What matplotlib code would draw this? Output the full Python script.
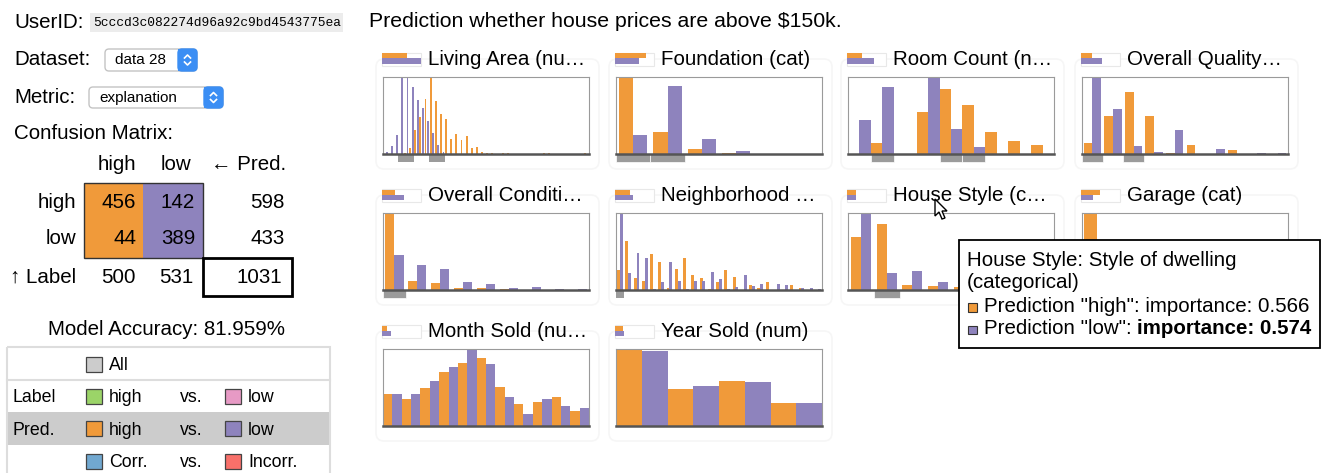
# explanation dashboard: confusion matrix + per-feature histograms of the predicted classes
import numpy as np
import matplotlib.pyplot as plt
from matplotlib.patches import Rectangle, FancyBboxPatch, Polygon

plt.rcParams['font.family'] = ['Liberation Sans', 'DejaVu Sans']

W, H = 1322, 473
ORANGE = '#f09a3a'
PURPLE = '#8e83bd'
FS = 14.8

#--------------
title = 'Prediction whether house prices are above $150k.'
user_id = '5cccd3c082274d96a92c9bd4543775ea'
dataset = 'data 28'
metric = 'explanation'
classes = ['high', 'low']
cm = np.array([[456, 142], [44, 389]])  # rows: label, cols: prediction
#--------------

features = ['Living Area (nu\u2026', 'Foundation (cat)', 'Room Count (n\u2026', 'Overall Quality\u2026',
            'Overall Conditi\u2026', 'Neighborhood \u2026', 'House Style (c\u2026', 'Garage (cat)',
            'Month Sold (nu\u2026', 'Year Sold (num)']
imp_high = [0.65, 0.80, 0.39, 0.29, 0.33, 0.38, 0.22, 0.48, 0.12, 0.20]  # importance icon
imp_low = [1.0, 0.62, 0.70, 0.55, 0.56, 0.46, 0.22, 0.30, 0.24, 0.24]

living_high = [0, 0, 0, 0, 0.01, 0.08, 0.31, 0.48, 0.71, 1.0, 0.69, 0.52, 0.46, 0.20, 0.26, 0.18, 0.24, 0.08, 0.09, 0.02,
               0.01, 0.01, 0, 0.01, 0.01, 0, 0, 0, 0, 0, 0, 0.01, 0.01, 0, 0, 0, 0, 0, 0, 0.01]
living_low = [0.02, 0.11, 0.25, 1.0, 1.0, 0.87, 0.70, 0.60, 0.43, 0.27, 0.12, 0.02, 0, 0, 0, 0, 0, 0, 0, 0,
              0, 0, 0, 0, 0, 0, 0, 0, 0, 0, 0, 0, 0, 0, 0, 0, 0, 0, 0, 0]
foundation_high = [1.0, 0.29, 0.065, 0.01, 0.005, 0.005]
foundation_low = [0.245, 0.88, 0.20, 0.04, 0.005, 0.005]
room_high = [0, 0.14, 0, 0.55, 0.85, 0.64, 0.28, 0.17, 0.12]
room_low = [0.44, 0.87, 0, 1.0, 0.33, 0.09, 0, 0, 0]
quality_high = [0.14, 0.49, 0.81, 0.49, 0.01, 0.12, 0, 0.05, 0, 0]
quality_low = [1.0, 0.58, 0.11, 0.03, 0.31, 0, 0.07, 0, 0.01, 0.01]
condition_high = [1.0, 0.12, 0.09, 0.03, 0.02, 0.01, 0.005, 0, 0]
condition_low = [0.45, 0.32, 0.27, 0.10, 0.08, 0.03, 0.04, 0.01, 0.01]
neighborhood_high = [0.26, 0.63, 0.16, 0.12, 0.47, 0.36, 0.03, 0.27, 0.41, 0.20, 0.16, 0.01, 0.10,
                     0.26, 0.17, 0, 0.07, 0.03, 0.11, 0, 0, 0.07, 0.02, 0, 0]
neighborhood_low = [1.0, 0.22, 0.48, 0.42, 0.01, 0.10, 0.36, 0.12, 0.01, 0.12, 0.12, 0.23, 0.14,
                    0.01, 0.04, 0.19, 0.05, 0.08, 0, 0.08, 0.07, 0, 0.03, 0.03, 0.01]
style_high = [0.69, 0.86, 0.065, 0.05, 0.04, 0.02, 0.01, 0.01]
style_low = [1.0, 0.22, 0.25, 0.11, 0.06, 0.03, 0.02, 0.01]
garage_high = [1.0, 0.12, 0.30, 0.02, 0.01, 0.01, 0.0]
garage_low = [0.48, 0.55, 0.05, 0.08, 0.02, 0.01, 0.01]
month_high = [0.42, 0.35, 0.49, 0.70, 0.82, 0.88, 0.51, 0.29, 0.31, 0.38, 0.19]
month_low = [0.41, 0.42, 0.58, 0.76, 1.0, 0.80, 0.38, 0.15, 0.35, 0.26, 0.23]
year_high = [1.0, 0.48, 0.58, 0.30]
year_low = [0.97, 0.52, 0.57, 0.30]

hist_high = [living_high, foundation_high, room_high, quality_high, condition_high,
             neighborhood_high, style_high, garage_high, month_high, year_high]
hist_low = [living_low, foundation_low, room_low, quality_low, condition_low,
            neighborhood_low, style_low, garage_low, month_low, year_low]
highlight = [[3, 4, 5, 9, 10, 11], [0, 1], [1, 4, 5], [0, 2], [0], [0], [1], [], [], []]  # gray bins
bar_width = [0.36, 0.41, 0.5, 0.42, 0.4, 0.36, 0.39, 0.42, 0.5, 0.5]
bar_offset = [0.26, 0.205, 0.25, 0.21, 0.2, 0.17, 0.195, 0.21, 0.25, 0.25]

legend_rows = ['', 'Label', 'Pred.', '']
legend_left = ['All', 'high', 'high', 'Corr.']
legend_right = ['', 'low', 'low', 'Incorr.']
legend_left_col = ['#cccccc', '#9bd468', ORANGE, '#71a8d0']
legend_right_col = ['', '#e79ac5', PURPLE, '#f8706a']


def px_box(left, top, right, bottom):
    # pixel box (origin top-left) -> figure fraction
    return [left/W, 1-bottom/H, (right-left)/W, (bottom-top)/H]


def draw_hist(rect, high, low, width, offset, marked):
    ax = plt.axes(rect)
    x = np.arange(len(high))
    plt.bar(x-offset, high, width=width, color=ORANGE, linewidth=0)
    plt.bar(x+offset, low, width=width, color=PURPLE, linewidth=0)
    if len(marked) > 0:
        sep = 0.5 if len(high) < 20 else 0  # fine bins: one solid block
        plt.bar(marked, -0.11, width=1, bottom=0, color='#9b9b9b', edgecolor='white', linewidth=sep, clip_on=False)
    plt.xlim(-0.5, len(high)-0.5)
    plt.ylim(0, 1)
    plt.xticks([])
    plt.yticks([])
    for side in ['top', 'left', 'right']:
        ax.spines[side].set_color('#9a9a9a')
    ax.spines['bottom'].set_color('#555555')
    ax.spines['bottom'].set_linewidth(1.8)
    return ax


def select_box(left, top, right, bottom, label):
    ax = plt.gca()
    ax.add_patch(FancyBboxPatch((left, top), right-left, bottom-top, boxstyle='round,pad=0,rounding_size=4',
                                facecolor='white', edgecolor='#c4c4c4', linewidth=1))
    ax.add_patch(FancyBboxPatch((right-19, top), 19, bottom-top, boxstyle='round,pad=0,rounding_size=4',
                                facecolor='#3b8ef4', edgecolor='#3b8ef4', linewidth=1))
    ax.add_patch(Rectangle((right-19, top), 6, bottom-top, facecolor='#3b8ef4', edgecolor='none'))
    cx, cy = right-9.5, (top+bottom)/2
    plt.plot([cx-3, cx, cx+3], [cy-2, cy-5, cy-2], color='white', linewidth=1.2)
    plt.plot([cx-3, cx, cx+3], [cy+2, cy+5, cy+2], color='white', linewidth=1.2)
    plt.text(left+10, (top+bottom)/2+4.5, label, fontsize=11, va='baseline')


fig = plt.figure(figsize=(W/100, H/100), dpi=100)

# background layer in pixel coordinates
bg = plt.axes([0, 0, 1, 1])
plt.xlim(0, W)
plt.ylim(H, 0)
plt.axis('off')

plt.text(14, 28, 'UserID:', fontsize=FS, va='baseline')
bg.add_patch(Rectangle((90, 13), 253, 19, facecolor='#ececec', edgecolor='none'))
plt.text(93, 26, user_id, fontsize=9.3, family='Liberation Mono', va='baseline')
plt.text(14, 65, 'Dataset:', fontsize=FS, va='baseline')
select_box(105, 49, 197, 71, dataset)
plt.text(14, 103, 'Metric:', fontsize=FS, va='baseline')
select_box(89, 87, 223, 108, metric)
plt.text(14, 139, 'Confusion Matrix:', fontsize=FS, va='baseline')

# confusion matrix
col_x = [84, 143]
for j in range(2):
    bg.add_patch(Rectangle((col_x[j], 183), 59.5, 75, facecolor=[ORANGE, PURPLE][j], edgecolor='none'))
    plt.text(col_x[j]+33, 170, classes[j], fontsize=FS, ha='center', va='baseline')
bg.add_patch(Rectangle((84, 183), 119, 75, facecolor='none', edgecolor='#333333', linewidth=1))
plt.text(211, 170, '\u2190 Pred.', fontsize=FS, va='baseline')
for i in range(2):
    base = [208, 244][i]
    plt.text(76, base, classes[i], fontsize=FS, ha='right', va='baseline')
    for j in range(2):
        plt.text([136, 195][j], base, '%d' % cm[i, j], fontsize=FS, ha='right', va='baseline')
    plt.text(285, base, '%d' % cm[i].sum(), fontsize=FS, ha='right', va='baseline')
plt.text(76, 283, '\u2191 Label', fontsize=FS, ha='right', va='baseline')
for j in range(2):
    plt.text([136, 193][j], 283, '%d' % cm[:, j].sum(), fontsize=FS, ha='right', va='baseline')
bg.add_patch(Rectangle((203, 258), 89, 38, facecolor='none', edgecolor='black', linewidth=2))
plt.text(282, 283, '%d' % cm.sum(), fontsize=FS, ha='right', va='baseline')

acc = 100.0*np.trace(cm)/cm.sum()
plt.text(167, 335, 'Model Accuracy: %.3f%%' % acc, fontsize=FS, ha='center', va='baseline')

# color legend table
bg.add_patch(Rectangle((8, 412), 321, 33, facecolor='#cccccc', edgecolor='none'))
bg.add_patch(Rectangle((7, 347), 323, 140, facecolor='none', edgecolor='#dddddd', linewidth=1.5))
plt.plot([7, 330], [380, 380], color='#dddddd', linewidth=1.5)
for k in range(4):
    yc = 364+32.4*k
    plt.text(13, yc+6, legend_rows[k], fontsize=12.8, va='baseline')
    bg.add_patch(Rectangle((86, yc-7.5), 16, 15, facecolor=legend_left_col[k], edgecolor='#444444', linewidth=0.9))
    plt.text(109, yc+6, legend_left[k], fontsize=12.8, va='baseline')
    if legend_right[k]:
        plt.text(180, yc+6, 'vs.', fontsize=12.8, va='baseline')
        bg.add_patch(Rectangle((225, yc-7.5), 16, 15, facecolor=legend_right_col[k], edgecolor='#444444', linewidth=0.9))
        plt.text(248, yc+6, legend_right[k], fontsize=12.8, va='baseline')

plt.text(369, 27, title, fontsize=15.3, va='baseline')

# feature panels
col_left = [383, 616, 848, 1082]
row_top = [77, 213, 349]
for n in range(len(features)):
    left = col_left[n % 4]
    top = row_top[n//4]
    bg.add_patch(FancyBboxPatch((left-7, top-18), 223, 110, boxstyle='round,pad=0,rounding_size=8',
                                facecolor='white', edgecolor='#f6f6f6', linewidth=1.2))
    bg.add_patch(Rectangle((left-1, top-24), 39, 13, facecolor='white', edgecolor='#e8e8e8', linewidth=0.8))
    bg.add_patch(Rectangle((left-1, top-23.5), 39*imp_high[n], 5, facecolor=ORANGE, edgecolor='none'))
    bg.add_patch(Rectangle((left-1, top-18.5), 39*imp_low[n], 5.5, facecolor=PURPLE, edgecolor='none'))
    plt.text(left+45, top-12, features[n], fontsize=FS, va='baseline')

for n in range(len(features)):
    left = col_left[n % 4]
    top = row_top[n//4]
    draw_hist(px_box(left, top, left+206, top+77), hist_high[n], hist_low[n], bar_width[n], bar_offset[n], highlight[n])

# tooltip over House Style and the mouse pointer
top_ax = plt.axes([0, 0, 1, 1])
top_ax.patch.set_visible(False)
plt.xlim(0, W)
plt.ylim(H, 0)
plt.axis('off')
top_ax.add_patch(Rectangle((959, 240), 361, 108, facecolor='white', edgecolor='black', linewidth=1.3))
plt.text(967, 266, 'House Style: Style of dwelling', fontsize=FS, va='baseline')
plt.text(967, 288, '(categorical)', fontsize=FS, va='baseline')
top_ax.add_patch(Rectangle((968, 303), 8.5, 8.5, facecolor=ORANGE, edgecolor='#333333', linewidth=0.8))
plt.text(984, 312, 'Prediction "high": importance: 0.566', fontsize=FS, va='baseline')
top_ax.add_patch(Rectangle((968, 325.5), 8.5, 8.5, facecolor=PURPLE, edgecolor='#333333', linewidth=0.8))
t1 = plt.text(984, 334, 'Prediction "low": ', fontsize=FS, va='baseline')
top_ax.annotate('importance: 0.574', xy=(1, 0), xycoords=t1, va='bottom', ha='left', fontsize=FS, fontweight='bold')
tip = np.array([[0, 0], [0, 17], [4, 13], [7, 20], [10, 19], [7, 12], [12, 12]])
top_ax.add_patch(Polygon(tip+[935, 199], closed=True, facecolor='white', edgecolor='black', linewidth=1))

plt.savefig('out.png', dpi=100)
